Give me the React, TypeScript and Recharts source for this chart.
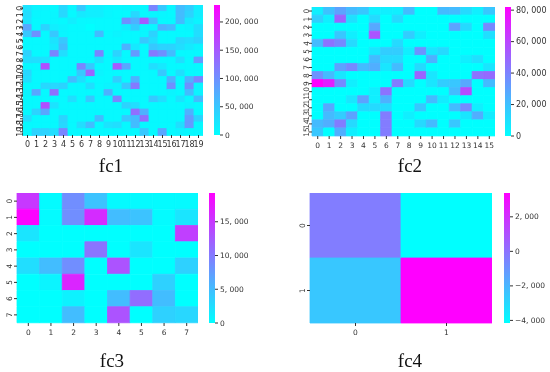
import { Bar, BarChart, Cell, XAxis, YAxis } from "recharts";

// values in thousands
const fc1Rows = [
  [25, 10, 8, 6, 35, 8, 50, 15, 15, 8, 6, 8, 10, 6, 110, 50, 8, 60, 45, 15],
  [30, 8, 6, 8, 35, 5, 20, 15, 15, 8, 5, 5, 35, 6, 8, 8, 5, 60, 40, 15],
  [25, 5, 6, 8, 5, 15, 6, 5, 5, 5, 5, 100, 70, 150, 60, 5, 5, 60, 20, 10],
  [80, 5, 40, 15, 10, 5, 5, 0, 5, 5, 5, 15, 45, 8, 8, 70, 60, 5, 10, 30],
  [50, 100, 5, 50, 8, 5, 5, 5, 60, 5, 10, 5, 5, 8, 40, 5, 5, 5, 5, 30],
  [5, 5, 5, 25, 50, 5, 5, 5, 5, 5, 5, 5, 5, 50, 30, 5, 5, 35, 30, 40],
  [5, 5, 5, 20, 60, 5, 5, 5, 5, 5, 5, 70, 20, 5, 50, 40, 40, 30, 20, 10],
  [40, 5, 5, 110, 30, 5, 5, 5, 110, 5, 40, 5, 90, 5, 120, 100, 60, 5, 5, 5],
  [30, 30, 25, 5, 5, 5, 5, 5, 25, 5, 20, 5, 5, 5, 5, 5, 5, 30, 5, 90],
  [5, 5, 160, 5, 5, 5, 110, 50, 5, 5, 150, 80, 5, 5, 30, 20, 5, 5, 5, 5],
  [35, 5, 5, 5, 5, 5, 50, 140, 10, 5, 5, 5, 5, 5, 5, 50, 5, 30, 5, 5],
  [30, 5, 5, 5, 5, 60, 30, 5, 5, 5, 45, 5, 70, 5, 5, 5, 70, 5, 70, 110],
  [5, 5, 35, 35, 40, 5, 5, 30, 5, 10, 10, 50, 120, 5, 5, 5, 100, 5, 100, 10],
  [10, 80, 5, 130, 5, 5, 5, 5, 5, 70, 5, 5, 5, 5, 5, 5, 10, 5, 60, 10],
  [5, 5, 5, 5, 5, 30, 5, 50, 5, 5, 110, 5, 5, 5, 50, 30, 5, 25, 5, 60],
  [5, 5, 160, 25, 5, 5, 5, 5, 5, 5, 5, 40, 30, 5, 5, 5, 5, 5, 10, 5],
  [5, 40, 80, 5, 5, 5, 5, 5, 5, 5, 5, 5, 130, 70, 5, 5, 5, 5, 70, 5],
  [30, 5, 5, 5, 40, 5, 5, 5, 60, 5, 5, 50, 60, 130, 5, 5, 5, 5, 90, 40],
  [5, 5, 5, 5, 35, 5, 30, 60, 5, 25, 30, 5, 60, 5, 5, 5, 5, 30, 90, 5],
  [5, 40, 40, 30, 110, 5, 5, 5, 5, 5, 5, 5, 5, 50, 5, 80, 5, 10, 5, 5],
];
const fc2Rows = [
  [5, 20, 30, 22, 18, 5, 5, 5, 22, 0, 0, 22, 22, 12, 5, 18],
  [15, 5, 50, 10, 0, 12, 0, 12, 0, 0, 0, 0, 0, 0, 0, 0],
  [0, 0, 0, 0, 0, 28, 0, 0, 0, 0, 0, 0, 30, 12, 0, 38],
  [0, 0, 18, 5, 0, 55, 0, 0, 16, 5, 0, 0, 0, 0, 0, 10],
  [22, 45, 38, 12, 0, 0, 0, 12, 0, 0, 0, 0, 0, 0, 0, 0],
  [0, 0, 0, 0, 0, 8, 16, 16, 5, 35, 8, 12, 0, 0, 0, 0],
  [0, 0, 0, 0, 0, 22, 12, 12, 0, 0, 25, 0, 0, 5, 10, 0],
  [0, 0, 30, 38, 22, 26, 8, 22, 0, 12, 0, 0, 0, 0, 0, 8],
  [35, 22, 8, 0, 0, 0, 0, 0, 0, 50, 8, 0, 0, 0, 45, 48],
  [82, 72, 38, 5, 0, 0, 0, 42, 12, 0, 8, 16, 18, 28, 0, 22],
  [0, 0, 0, 0, 0, 5, 45, 0, 0, 0, 0, 0, 22, 58, 0, 0],
  [0, 0, 0, 8, 30, 5, 25, 0, 0, 0, 22, 6, 0, 0, 0, 0],
  [0, 28, 0, 0, 12, 12, 12, 0, 0, 18, 0, 0, 22, 38, 5, 0],
  [0, 22, 16, 30, 0, 0, 42, 0, 5, 0, 0, 0, 0, 8, 26, 6],
  [22, 26, 42, 12, 0, 0, 42, 0, 0, 12, 22, 0, 18, 0, 0, 0],
  [18, 0, 26, 5, 0, 0, 42, 0, 0, 0, 0, 0, 0, 0, 0, 0],
];
const fc3Rows = [
  [15, 0.3, 8.5, 4.5, 0.4, 0.4, 0.3, 0.4],
  [19, 0.3, 8.5, 16, 5, 4.5, 0.3, 2],
  [2, 0, 0, 0, 0, 0, 0, 14.5],
  [0, 0, 0, 10.5, 0, 2, 0, 0],
  [2.5, 5, 8.5, 0, 13, 0, 0, 3.5],
  [0, 0.8, 16.5, 0, 0, 0, 3.5, 0],
  [0, 0, 1, 0, 5, 11, 5, 0],
  [0, 0, 5, 0, 13, 0, 3.5, 3],
];
const fc4Rows = [
  [-0.3, -4.15],
  [-2.5, 3.38],
];

const fc1Ticks = [0, 50000, 100000, 150000, 200000];
const fc2Ticks = [0, 20000, 40000, 60000, 80000];
const fc3Ticks = [0, 5000, 10000, 15000];
const fc4Ticks = [-4000, -2000, 0, 2000];

const textColor = "#333";

function coolColor(t: number) {
  return `rgb(${Math.round(255 * t)},${Math.round(255 * (1 - t))},255)`;
}

function fmt(v: number) {
  const s = Math.abs(v).toLocaleString("en-US").replace(",", ", ");
  return v < 0 ? "\u2212" + s : s;
}

function RotTick({ x, y, payload, fontSize, dx }: any) {
  return (
    <text
      x={x + dx}
      y={y}
      transform={`rotate(-90 ${x + dx} ${y})`}
      textAnchor="middle"
      dominantBaseline="central"
      fontSize={fontSize}
      fontFamily="DejaVu Sans"
      fill={textColor}
    >
      {payload.value}
    </text>
  );
}

function BottomTick({ x, y, payload, fontSize }: any) {
  return (
    <text x={x} y={y + 7} textAnchor="middle" fontSize={fontSize} fontFamily="DejaVu Sans" fill={textColor}>
      {Math.floor(payload.value)}
    </text>
  );
}

function BarTick({ x, y, payload, fontSize }: any) {
  return (
    <text x={x} y={y} dominantBaseline="central" fontSize={fontSize} fontFamily="DejaVu Sans" fill={textColor}>
      {fmt(payload.value)}
    </text>
  );
}

type HeatProps = {
  id: string;
  title: string;
  rows: number[][];
  ticks: number[];
  min: number;
  max: number;
  left: number;
  top: number;
  w: number;
  h: number;
  barLeft: number;
  barW: number;
  axisFont: number;
  labelFont: number;
  labelDx: number;
  titleX: number;
  titleY: number;
};

function Heat(p: HeatProps) {
  const cols = p.rows[0].map((_, c) => c);
  const data = p.rows.map((_, r) => ({ row: String(r) }));
  const yW = 22;
  const xH = 18;
  const pad = 6;
  return (
    <>
      <div style={{ position: "absolute", left: p.left - yW, top: p.top }}>
        <BarChart
          width={p.w + yW}
          height={p.h + xH}
          data={data}
          layout="vertical"
          margin={{ top: 0, right: 0, bottom: 0, left: 0 }}
          barCategoryGap={0}
          barGap={0}
        >
          <XAxis
            type="number"
            domain={[0, cols.length]}
            ticks={cols.map((c) => c + 0.5)}
            interval={0}
            height={xH}
            axisLine={false}
            tickSize={3}
            tickLine={{ stroke: textColor }}
            tick={<BottomTick fontSize={p.axisFont} />}
          />
          <YAxis
            type="category"
            dataKey="row"
            width={yW}
            interval={0}
            axisLine={false}
            tickSize={3}
            tickLine={{ stroke: textColor }}
            tick={<RotTick fontSize={p.axisFont} dx={p.labelDx} />}
          />
          {cols.map((c) => (
            <Bar key={c} dataKey={() => 1} stackId="a" isAnimationActive={false}>
              {p.rows.map((row, r) => {
                const fill = coolColor((row[c] * 1000 - p.min) / (p.max - p.min));
                return <Cell key={r} fill={fill} stroke={fill} strokeWidth={0.8} />;
              })}
            </Bar>
          ))}
        </BarChart>
      </div>
      <div style={{ position: "absolute", left: p.barLeft, top: p.top - pad }}>
        <BarChart
          width={p.barW + 45}
          height={p.h + pad * 2}
          data={[{ name: "cb", range: [p.min, p.max] }]}
          margin={{ top: pad, right: 0, bottom: pad, left: 0 }}
          barCategoryGap={0}
        >
          <defs>
            <linearGradient id={p.id} x1="0" y1="1" x2="0" y2="0">
              <stop offset="0%" stopColor={coolColor(0)} />
              <stop offset="100%" stopColor={coolColor(1)} />
            </linearGradient>
          </defs>
          <XAxis dataKey="name" hide />
          <YAxis
            orientation="right"
            domain={[p.min, p.max]}
            ticks={p.ticks}
            interval={0}
            width={45}
            axisLine={false}
            tickSize={3}
            tickLine={{ stroke: textColor }}
            tick={<BarTick fontSize={p.labelFont} />}
            allowDataOverflow
          />
          <Bar dataKey="range" fill={`url(#${p.id})`} isAnimationActive={false} />
        </BarChart>
      </div>
      <div
        style={{
          position: "absolute",
          left: p.titleX - 40,
          width: 80,
          top: p.titleY - 17,
          textAlign: "center",
          fontFamily: "Liberation Serif",
          fontSize: 19,
          lineHeight: "21px",
          color: "#111",
        }}
      >
        {p.title}
      </div>
    </>
  );
}

export default function App() {
  return (
    <div
      style={{
        position: "absolute",
        left: 0,
        top: 0,
        width: 550,
        height: 372,
        background: "#fff",
        overflow: "hidden",
        filter: "blur(0.4px)",
      }}
    >
      <Heat id="g1" title="fc1" rows={fc1Rows} ticks={fc1Ticks} min={0} max={230000}
        left={23} top={5} w={180} h={130} barLeft={214} barW={6} axisFont={8} labelFont={7.5} labelDx={2}
        titleX={111} titleY={172} />
      <Heat id="g2" title="fc2" rows={fc2Rows} ticks={fc2Ticks} min={0} max={82000}
        left={312} top={7} w={183} h={129} barLeft={505} barW={6} axisFont={7.5} labelFont={8} labelDx={-1}
        titleX={410} titleY={172} />
      <Heat id="g3" title="fc3" rows={fc3Rows} ticks={fc3Ticks} min={0} max={19260}
        left={17} top={193} w={181} h={130} barLeft={209} barW={6} axisFont={7.5} labelFont={7.5} labelDx={-3}
        titleX={112} titleY={367} />
      <Heat id="g4" title="fc4" rows={fc4Rows} ticks={fc4Ticks} min={-4150} max={3380}
        left={310} top={193} w={182} h={130} barLeft={504} barW={6} axisFont={7.5} labelFont={7.5} labelDx={-3}
        titleX={410} titleY={367} />
    </div>
  );
}
